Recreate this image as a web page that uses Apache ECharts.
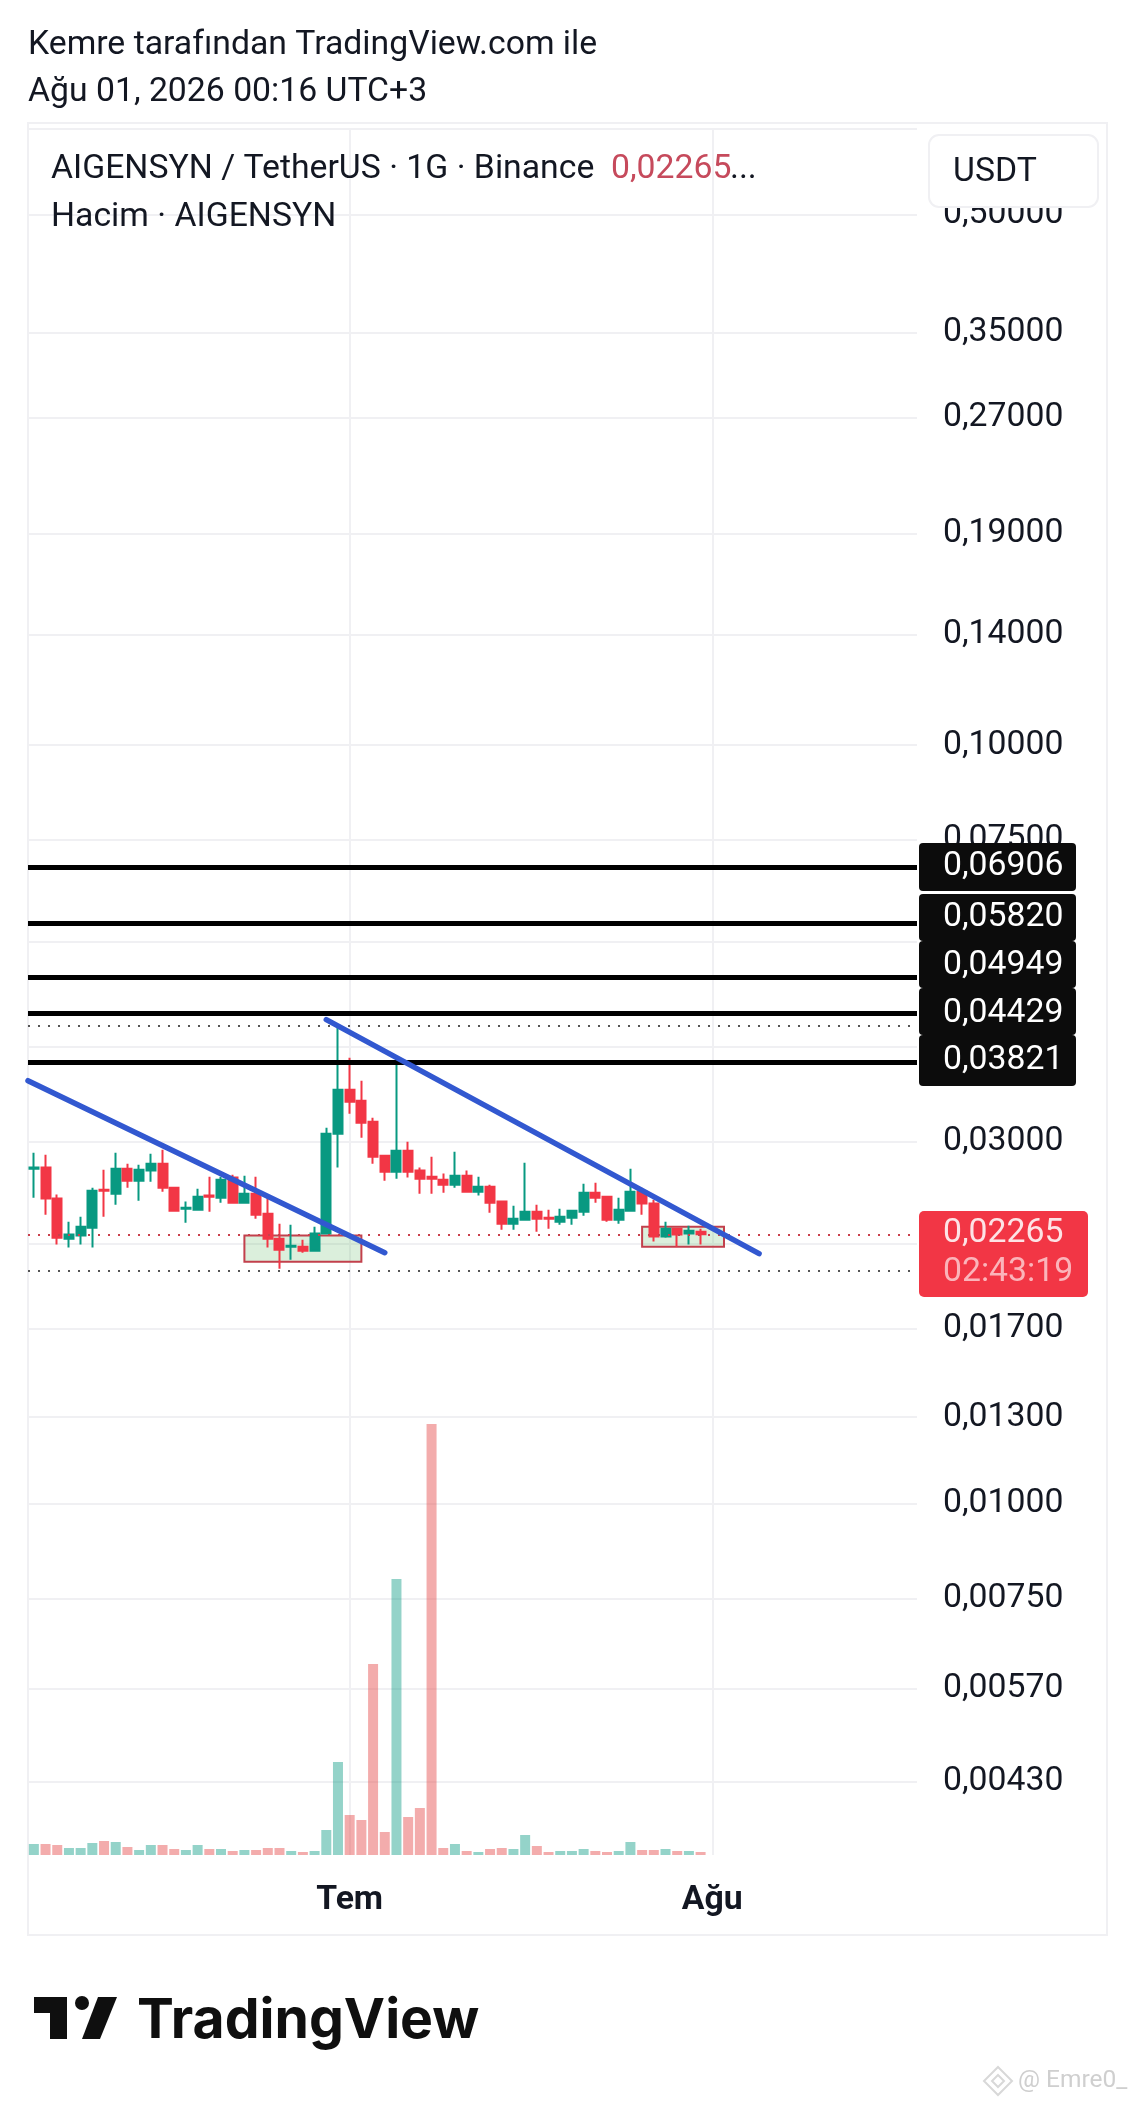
<!DOCTYPE html>
<html><head><meta charset="utf-8">
<style>html,body{margin:0;padding:0;background:#fff}#c{width:1136px;height:2104px}</style>
<script src="https://cdn.jsdelivr.net/npm/echarts@6/dist/echarts.min.js"></script>
</head><body><div id="c"></div>
<script>
const categories = ["4 Haz","5 Haz","6 Haz","7 Haz","8 Haz","9 Haz","10 Haz","11 Haz","12 Haz","13 Haz","14 Haz","15 Haz","16 Haz","17 Haz","18 Haz","19 Haz","20 Haz","21 Haz","22 Haz","23 Haz","24 Haz","25 Haz","26 Haz","27 Haz","28 Haz","29 Haz","30 Haz",
"1 Tem","2 Tem","3 Tem","4 Tem","5 Tem","6 Tem","7 Tem","8 Tem","9 Tem","10 Tem","11 Tem","12 Tem","13 Tem","14 Tem","15 Tem","16 Tem","17 Tem","18 Tem","19 Tem","20 Tem","21 Tem","22 Tem","23 Tem","24 Tem","25 Tem","26 Tem","27 Tem","28 Tem","29 Tem","30 Tem","31 Tem",
"1 Ağu","2 Ağu","3 Ağu","4 Ağu","5 Ağu","6 Ağu","7 Ağu","8 Ağu","9 Ağu","10 Ağu","11 Ağu","12 Ağu","13 Ağu","14 Ağu","15 Ağu","16 Ağu","17 Ağu","18 Ağu"];
const monthTicks = {"1 Tem":"Tem","1 Ağu":"Ağu"};
const opens  = [.02764,.02773,.02524,.02235,.02256,.02311,.02593,.02562,.02764,.02665,.02748,.02806,.02609,.02448,.02440,.02547,.02531,.02690,.02493,.02562,.02411,.02235,.02181,.02181,.02155,.02270,.03073,.03513,.03398,.03188,.02875,.02739,.02919,.02748,.02698,.02673,.02633,.02706,.02578,.02617,.02501,.02339,.02367,.02426,.02382,.02353,.02382,.02426,.02570,.02539,.02367,.02433,.02578,.02486,.02249,.02304,.02270,.02283];
const closes = [.02773,.02524,.02242,.02263,.02318,.02585,.02585,.02764,.02665,.02756,.02806,.02609,.02433,.02455,.02539,.02539,.02673,.02493,.02562,.02404,.02235,.02161,.02188,.02155,.02270,.03073,.03513,.03387,.03178,.02866,.02739,.02919,.02739,.02681,.02681,.02633,.02706,.02578,.02617,.02493,.02339,.02374,.02426,.02374,.02374,.02389,.02433,.02570,.02531,.02367,.02440,.02578,.02486,.02249,.02304,.02263,.02290,.02265];
const lows   = [.02531,.02404,.02195,.02175,.02195,.02175,.02389,.02478,.02609,.02508,.02657,.02578,.02433,.02346,.02440,.02426,.02493,.02486,.02493,.02374,.02175,.02040,.02097,.02142,.02148,.02263,.02773,.03266,.03036,.02806,.02665,.02681,.02690,.02562,.02562,.02570,.02609,.02578,.02547,.02418,.02297,.02297,.02367,.02283,.02304,.02332,.02332,.02396,.02493,.02353,.02339,.02426,.02404,.02215,.02242,.02181,.02195,.02195];
const highs  = [.02901,.02884,.02555,.02353,.02389,.02609,.02756,.02901,.02806,.02798,.02893,.02928,.02617,.02501,.02601,.02698,.02698,.02714,.02706,.02698,.02531,.02339,.02332,.02228,.02318,.03130,.04254,.03872,.03610,.03227,.02875,.03836,.03000,.02773,.02866,.02723,.02910,.02748,.02698,.02633,.02501,.02470,.02815,.02478,.02440,.02448,.02440,.02641,.02649,.02539,.02531,.02764,.02609,.02516,.02353,.02304,.02325,.02304];
const volumes = [11,11,10,7,7,12,14,13,8,5,10,10,6,5,10,6,6,4,5,5,7,7,4,3,4,25,93,40,35,191,23,276,38,47,431,7,11,4,3,6,7,6,20,9,3,4,4,6,4,3,4,13,5,5,6,4,4,3];
const gridTicks = [0.65,0.5,0.35,0.27,0.19,0.14,0.1,0.075,0.055,0.04,0.03,0.022,0.017,0.013,0.01,0.0075,0.0057,0.0043];
const labelTicks = [0.5,0.35,0.27,0.19,0.14,0.1,0.075,0.055,0.04,0.03,0.022,0.017,0.013,0.01,0.0075,0.0057,0.0043];
const levels = [0.06906,0.0582,0.04949,0.04429,0.03821];
const lastPrice = 0.02265;
const dottedLevels = [0.0427,0.0203];
const trendA = [[-0.5,0.0361],[30,0.02142]];
const trendB = [[25,0.04345],[62,0.02136]];
const boxA = [[18,0.02256],[28,0.02084]];
const boxB = [[52,0.02318],[59,0.02181]];

const fmt = v => v.toFixed(5).replace('.',',');
const RED='#f23645', GREEN='#089981', FONT='Roboto', FS=33.75;
const tagRows = [{t:843,b:891,c:867},{t:894,b:941,c:918},{t:941,b:988,c:966},{t:988,b:1035,c:1014},{t:1035,b:1086,c:1061}];

const chart = echarts.init(document.getElementById('c'),null,{renderer:'canvas'});
const txt = (x,y,text,size,color,extra) => Object.assign({type:'text',x,y,z:100,silent:true,style:Object.assign({text,font:`${size}px ${FONT}`,fill:color,textVerticalAlign:'middle',textAlign:'left'},extra||{})});
const graphic = [
  {type:'rect',z:-1,silent:true,shape:{x:28,y:123,width:1079,height:1812},style:{fill:'none',stroke:'#f0f0f3',lineWidth:2}},
  txt(28,46,'Kemre tarafından TradingView.com ile',FS,'#131722'),
  txt(28,93,'Ağu 01, 2026 00:16 UTC+3',FS,'#131722'),
  txt(51,170,'AIGENSYN / TetherUS · 1G · Binance',FS,'#131722'),
  txt(611,170,fmt(lastPrice),FS,'#c64a5c'),
  txt(730,170,'...',FS,'#131722'),
  txt(51,218,'Hacim · AIGENSYN',FS,'#131722'),
  {type:'rect',z:100,silent:true,shape:{x:929,y:135,width:169,height:72,r:10},style:{fill:'#fff',stroke:'#f0f0f3',lineWidth:2}},
  txt(953,173,'USDT',FS,'#131722'),
  {type:'rect',z:99,silent:true,shape:{x:919,y:1211,width:169,height:86,r:5},style:{fill:RED}},
  txt(943,1234,fmt(lastPrice),FS,'#fde3e5'),
  txt(943,1273,'02:43:19',FS,'#fbb4ba'),
  {type:'polygon',z:100,silent:true,shape:{points:[[34,1997],[67,1997],[67,2039],[50,2039],[50,2013],[34,2013]]},style:{fill:'#0f0f0f'}},
  {type:'circle',z:100,silent:true,shape:{cx:82,cy:2003,r:7},style:{fill:'#0f0f0f'}},
  {type:'polygon',z:100,silent:true,shape:{points:[[98,1997],[117,1997],[100,2039],[82,2039]]},style:{fill:'#0f0f0f'}},
  {type:'text',x:137,y:2021,z:100,silent:true,style:{text:'TradingView',font:'700 55.3px Inter',fill:'#0f0f0f',textVerticalAlign:'middle'}},
  {type:'polygon',z:100,silent:true,shape:{points:[[998,2067],[1012,2081],[998,2095],[984,2081]]},style:{fill:'none',stroke:'#d8d8d8',lineWidth:2}},
  {type:'polygon',z:100,silent:true,shape:{points:[[998,2075],[1004,2081],[998,2087],[992,2081]]},style:{fill:'none',stroke:'#d8d8d8',lineWidth:2}},
  txt(1018,2081,'@ Emre0_',24.5,'#cfcfcf')
];
levels.forEach((v,i)=>{
  const r=tagRows[i];
  graphic.push({type:'rect',z:98,silent:true,shape:{x:919,y:r.t,width:157,height:r.b-r.t,r:4},style:{fill:'#0c0c0c'}});
  graphic.push(txt(943,r.c,fmt(v),FS,'#ffffff'));
});

const hLine = (v,color,width,type) => ({yAxis:v,lineStyle:{color,width,type}});
chart.setOption({
  animation:false,
  backgroundColor:'#fff',
  grid:{left:28,right:219,top:128,bottom:249,containLabel:false},
  xAxis:[
    {type:'category',data:categories,boundaryGap:true,
      axisLine:{show:false},axisTick:{show:false},
      axisLabel:{interval:(i,v)=>v in monthTicks,formatter:v=>monthTicks[v]||'',fontFamily:FONT,fontWeight:700,fontSize:FS,color:'#131722',margin:29,hideOverlap:false},
      splitLine:{show:true,alignWithLabel:true,interval:(i,v)=>v in monthTicks,lineStyle:{color:'#f0f0f3',width:2}}},
    {type:'value',show:false,min:-0.5,max:75.5,splitLine:{show:false}}
  ],
  yAxis:[
    {type:'log',logBase:10,position:'right',min:0.003441,max:0.651,
      axisLine:{show:false},
      axisTick:{show:false,customValues:gridTicks},
      axisLabel:{customValues:labelTicks,formatter:fmt,fontFamily:FONT,fontSize:FS,color:'#131722',margin:26,align:'left',padding:[0,0,8,0],showMinLabel:true,showMaxLabel:true},
      splitLine:{show:true,lineStyle:{color:'#f0f0f3',width:2}}},
    {type:'value',position:'right',show:false,min:0,max:1727,splitLine:{show:false}}
  ],
  series:[
    {type:'bar',name:'Hacim',xAxisIndex:0,yAxisIndex:1,barWidth:10,z:2,silent:true,
      data:volumes.map((v,i)=>({value:v,itemStyle:{color:closes[i]>=opens[i]?'rgba(8,153,129,0.43)':'rgba(228,70,70,0.45)'}}))},
    {type:'line',name:'boxes',xAxisIndex:1,yAxisIndex:0,data:[],z:3,silent:true,
      markArea:{silent:true,itemStyle:{color:'rgba(76,175,80,0.2)',borderColor:'#c2404c',borderWidth:2},
        data:[boxA,boxB].map(b=>[{coord:b[0]},{coord:b[1]}])}},
    {type:'candlestick',name:'AIGENSYN',xAxisIndex:0,yAxisIndex:0,barWidth:9.5,z:4,silent:true,
      itemStyle:{color:GREEN,color0:RED,borderColor:GREEN,borderColor0:RED,borderWidth:2},
      data:opens.map((o,i)=>[o,closes[i],lows[i],highs[i]])},
    {type:'line',name:'levels',xAxisIndex:1,yAxisIndex:0,data:[],z:5,silent:true,
      markLine:{silent:true,symbol:'none',animation:false,precision:5,label:{show:false},
        data:[...levels.map(v=>hLine(v,'#000',5,'solid')),
              ...dottedLevels.map(v=>hLine(v,'#555',2,[2,8])),
              hLine(lastPrice,'#c9404c',2,[2,8])]}},
    {type:'line',name:'trendA',xAxisIndex:1,yAxisIndex:0,data:trendA,z:6,silent:true,symbol:'none',lineStyle:{color:'#3258d0',width:5.5,cap:'round'}},
    {type:'line',name:'trendB',xAxisIndex:1,yAxisIndex:0,data:trendB,z:6,silent:true,symbol:'none',lineStyle:{color:'#3258d0',width:5.5,cap:'round'}}
  ],
  graphic:{elements:graphic}
});
</script></body></html>
